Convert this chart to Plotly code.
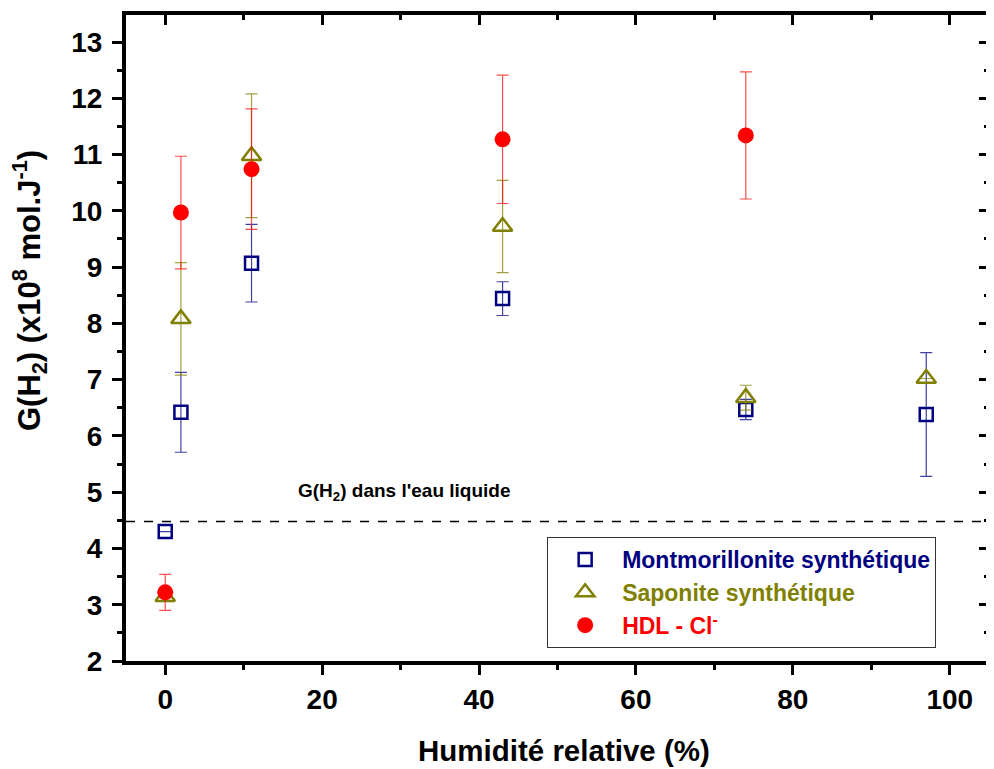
import plotly.graph_objects as go

# ---- data ----
mont_x = [0, 2, 11, 43, 74, 97]
mont_y = [4.30, 6.42, 9.07, 8.44, 6.47, 6.38]
mont_err = [0.0, 0.71, 0.69, 0.30, 0.18, 1.10]

sap_x = [0, 2, 11, 43, 74, 97]
sap_y = [3.14, 8.08, 10.98, 9.72, 6.68, 7.02]
sap_err = [0.0, 1.00, 1.10, 0.82, 0.22, 0.0]

hdl_x = [0, 2, 11, 43, 74]
hdl_y = [3.22, 9.97, 10.74, 11.27, 11.34]
hdl_err = [0.32, 1.00, 1.07, 1.14, 1.13]

water_g = 4.48
water_label_x = 30.5

x_range = [-5, 105]
y_range = [2, 13.48]

FONT = "Arial, 'Liberation Sans', sans-serif"
NAVY = "#000080"
OLIVE = "#808000"
RED = "#FF0000"


def colored(text, color):
    return f'<span style="color:{color}">{text}</span>'


fig = go.Figure()

fig.add_trace(go.Scatter(
    x=mont_x, y=mont_y, mode="markers", name=colored("Montmorillonite synthétique", NAVY),
    marker=dict(symbol="square-open", size=13, color=NAVY, line=dict(width=2.5, color=NAVY)),
    error_y=dict(type="data", array=mont_err, visible=True, color="rgba(0,0,128,0.75)",
                 thickness=1.2, width=6),
))
fig.add_trace(go.Scatter(
    x=sap_x, y=sap_y, mode="markers", name=colored("Saponite synthétique", OLIVE),
    marker=dict(symbol="triangle-up-open", size=17, color=OLIVE, line=dict(width=2.5, color=OLIVE)),
    error_y=dict(type="data", array=sap_err, visible=True, color="rgba(128,128,0,0.75)",
                 thickness=1.2, width=6),
))
fig.add_trace(go.Scatter(
    x=hdl_x, y=hdl_y, mode="markers", name=colored("HDL - Cl<sup>-</sup>", RED),
    marker=dict(symbol="circle", size=16, color=RED, line=dict(width=0)),
    error_y=dict(type="data", array=hdl_err, visible=True, color="rgba(255,0,0,0.7)",
                 thickness=1.2, width=6),
))
# dummy trace for mirrored (inside) ticks on top/right axes
fig.add_trace(go.Scatter(x=[None], y=[None], xaxis="x2", yaxis="y2",
                         showlegend=False, hoverinfo="skip"))

fig.add_shape(type="line", xref="paper", x0=0, x1=1, yref="y", y0=water_g, y1=water_g,
              line=dict(color="black", width=1.5, dash="dash"))

fig.add_annotation(x=water_label_x, y=water_g, xref="x", yref="y", yshift=29,
                   text="G(H<sub>2</sub>) dans l'eau liquide", showarrow=False,
                   font=dict(family=FONT, size=19, color="black", weight="bold"),
                   xanchor="center", yanchor="middle")

# axis titles as annotations
fig.add_annotation(x=0.507, y=-0.139, xref="paper", yref="paper",
                   text="Humidité relative (%)", showarrow=False,
                   font=dict(family=FONT, size=29.5, color="black", weight="bold"),
                   xanchor="center", yanchor="middle")
fig.add_annotation(x=-0.111, y=0.573, xref="paper", yref="paper",
                   text="G(H<sub>2</sub>) (x10<sup>8</sup> mol.J<sup>-1</sup>)", showarrow=False,
                   textangle=-90,
                   font=dict(family=FONT, size=31, color="black", weight="bold"),
                   xanchor="center", yanchor="middle")

tickfont = dict(family=FONT, size=28, color="black", weight="bold")

fig.update_layout(
    width=994, height=769,
    margin=dict(l=118, r=13, t=7, b=116),
    paper_bgcolor="white", plot_bgcolor="white",
    showlegend=True,
    legend=dict(x=0.488, y=0.192, xanchor="left", yanchor="top",
                bgcolor="white", bordercolor="#333333", borderwidth=1,
                font=dict(family=FONT, size=23, weight="bold"),
                itemwidth=64, tracegroupgap=0),
    xaxis=dict(range=x_range, tick0=0, dtick=20, ticks="outside", ticklen=10, tickwidth=3,
               tickcolor="black", showline=True, linewidth=4, linecolor="black",
               showgrid=False, zeroline=False, tickfont=tickfont,
               minor=dict(dtick=10, tick0=0, ticks="outside", ticklen=5, tickwidth=3, tickcolor="black")),
    yaxis=dict(range=y_range, tick0=0, dtick=1, ticks="outside", ticklen=10, tickwidth=3,
               tickcolor="black", showline=True, linewidth=4, linecolor="black",
               showgrid=False, zeroline=False, tickfont=tickfont, ticklabelstandoff=4,
               minor=dict(dtick=0.5, tick0=0, ticks="outside", ticklen=5, tickwidth=3, tickcolor="black")),
    xaxis2=dict(range=x_range, overlaying="x", side="top", anchor="y2", tick0=0, dtick=20,
                ticks="inside", ticklen=10, tickwidth=3, tickcolor="black",
                showticklabels=False, showline=True, linewidth=4, linecolor="black",
                showgrid=False, zeroline=False,
                minor=dict(dtick=10, tick0=0, ticks="inside", ticklen=5, tickwidth=3, tickcolor="black")),
    yaxis2=dict(range=y_range, overlaying="y", side="right", anchor="x2", tick0=0, dtick=1,
                ticks="inside", ticklen=10, tickwidth=3, tickcolor="black",
                showticklabels=False, showline=True, linewidth=4, linecolor="black",
                showgrid=False, zeroline=False,
                minor=dict(dtick=0.5, tick0=0, ticks="inside", ticklen=5, tickwidth=3, tickcolor="black")),
)

fig.write_html("out.html")
